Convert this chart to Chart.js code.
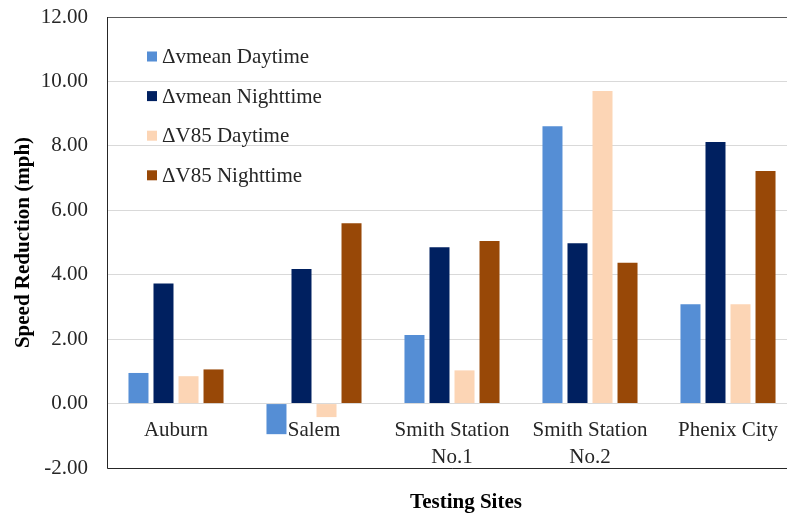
<!DOCTYPE html>
<html>
<head>
<meta charset="utf-8">
<script src="https://cdn.jsdelivr.net/npm/chart.js@4.4.1/dist/chart.umd.min.js"></script>
<style>
    html, body { margin: 0; padding: 0; background: #fff; overflow: hidden; }
    #wrap { width: 797px; height: 514px; position: relative; }
</style>
</head>
<body>
<div id="wrap"><canvas id="chart-speed"></canvas></div>
<script>
// Datos
const sites = ["Auburn", "Salem", ["Smith Station", "No.1"], ["Smith Station", "No.2"], "Phenix City"];
const vmeanDay = [0.95, -0.95, 2.13, 8.61, 3.08];
const vmeanNight = [3.73, 4.18, 4.85, 4.98, 8.12];
const v85Day = [0.85, -0.42, 1.03, 9.70, 3.08];
const v85Night = [1.06, 5.60, 5.05, 4.37, 7.22];
const yTicks = [-2, 0, 2, 4, 6, 8, 10, 12];

const seriesNames = ["\u0394vmean Daytime", "\u0394vmean Nighttime", "\u0394V85 Daytime", "\u0394V85 Nighttime"];
const seriesColors = ["#558ED5", "#002060", "#FCD5B5", "#984807"];

const serif = "'Liberation Serif', 'Times New Roman', serif";
Chart.defaults.font.family = serif;
Chart.defaults.color = "#404040";

// Leyenda dentro del área del gráfico, marco y título del eje X
const extrasPlugin = {
    id: "extras",
    afterDraw(chart) {
        const { ctx, chartArea } = chart;
        ctx.save();
        // marco
        ctx.lineWidth = 1;
        ctx.strokeStyle = "#595959";
        ctx.beginPath();
        ctx.moveTo(chartArea.left, chartArea.top + 0.5);
        ctx.lineTo(chartArea.right, chartArea.top + 0.5);
        ctx.stroke();
        ctx.strokeStyle = "#262626";
        ctx.beginPath();
        ctx.moveTo(chartArea.left + 0.5, chartArea.top);
        ctx.lineTo(chartArea.left + 0.5, chartArea.bottom + 0.5);
        ctx.lineTo(chartArea.right, chartArea.bottom + 0.5);
        ctx.stroke();

        // leyenda
        ctx.font = "21px " + serif;
        ctx.textBaseline = "middle";
        ctx.textAlign = "left";
        chart.data.datasets.forEach((ds, i) => {
            const y = chartArea.top + 39.5 + i * 39.6;
            const x = chartArea.left + 40;
            ctx.fillStyle = ds.backgroundColor;
            ctx.fillRect(x, y - 5, 10, 10);
            ctx.fillStyle = "#262626";
            ctx.fillText(ds.label, x + 15, y + 1);
        });

        // título eje X
        ctx.font = "bold 21px " + serif;
        ctx.textAlign = "center";
        ctx.fillStyle = "#000";
        ctx.fillText("Testing Sites", (chartArea.left + chartArea.right) / 2 + 14, chartArea.bottom + 35);
        ctx.restore();
    },
};

// sin relleno extra de las escalas
const noPad = (scale) => {
    scale.paddingTop = 0;
    scale.paddingBottom = 0;
};

var ctx1 = document.getElementById("chart-speed").getContext("2d");

new Chart(ctx1, {
    type: "bar",
    data: {
        labels: sites,
        datasets: [
            { label: seriesNames[0], data: vmeanDay, backgroundColor: seriesColors[0] },
            { label: seriesNames[1], data: vmeanNight, backgroundColor: seriesColors[1] },
            { label: seriesNames[2], data: v85Day, backgroundColor: seriesColors[2] },
            { label: seriesNames[3], data: v85Night, backgroundColor: seriesColors[3] },
        ],
    },
    options: {
        responsive: true,
        maintainAspectRatio: false,
        animation: false,
        datasets: {
            bar: {
                borderWidth: 0,
                categoryPercentage: 0.725,
                barPercentage: 0.8,
            },
        },
        layout: {
            padding: { left: 0, top: 17, right: 0, bottom: 46 },
        },
        plugins: {
            legend: { display: false },
            tooltip: { enabled: false },
        },
        scales: {
            y: {
                min: -2,
                max: 12,
                afterBuildTicks: (scale) => {
                    scale.ticks = yTicks.map((v) => ({ value: v }));
                },
                afterFit: (scale) => {
                    scale.width = 107;
                    noPad(scale);
                },
                grid: {
                    color: "#D9D9D9",
                    drawTicks: false,
                },
                border: { display: false },
                ticks: {
                    padding: 19,
                    color: "#262626",
                    font: { size: 21 },
                    callback: (v) => Number(v).toFixed(2),
                },
                title: {
                    display: true,
                    text: "Speed Reduction (mph)",
                    color: "#000",
                    font: { size: 21, weight: "bold" },
                    padding: { top: 11, bottom: 0 },
                },
            },
            x: {
                position: { y: 0 },
                afterFit: noPad,
                grid: { display: false, drawTicks: false },
                border: { display: false },
                ticks: {
                    padding: 13,
                    color: "#262626",
                    maxRotation: 0,
                    autoSkip: false,
                    font: { size: 21, lineHeight: 1.29 },
                },
            },
        },
    },
    plugins: [extrasPlugin],
});
</script>
</body>
</html>
